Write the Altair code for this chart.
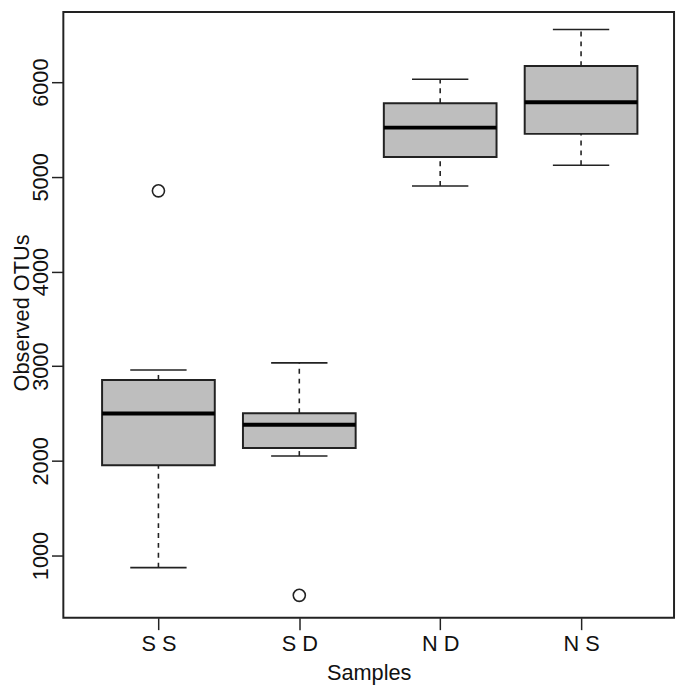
import json
import altair as alt
import pandas as pd

groups = ["S S", "S D", "N D", "N S"]
positions = [1, 2, 3, 4]
whisker_low = [872, 2051, 4904, 5123]
q1 = [1953, 2135, 5210, 5454]
median = [2500, 2381, 5520, 5788]
q3 = [2855, 2503, 5778, 6170]
whisker_high = [2959, 3035, 6031, 6556]

outlier_groups = ["S S", "S D"]
outlier_positions = [1, 2]
outlier_values = [4852, 579]

y_ticks = [1000, 2000, 3000, 4000, 5000, 6000]

df = pd.DataFrame({
    "group": groups, "pos": positions, "lo": whisker_low, "q1": q1,
    "med": median, "q3": q3, "hi": whisker_high,
})
df_out = pd.DataFrame({"group": outlier_groups, "pos": outlier_positions, "value": outlier_values})

INK = "#222222"
FONT = "Liberation Sans"

xscale = alt.Scale(domain=[0.325, 4.66], nice=False, zero=False)
yscale = alt.Scale(domain=[342, 6741], nice=False, zero=False)

label_expr = json.dumps(groups) + "[datum.value - 1]"

x_axis = alt.Axis(
    values=positions, labelExpr=label_expr, title="Samples", grid=False, domain=False,
    tickSize=12, tickWidth=1.5, tickColor=INK, labelFont=FONT, labelFontSize=22,
    labelColor="#111111", labelBaseline="alphabetic", labelPadding=21, labelAngle=0,
    titleFont=FONT, titleFontSize=22, titleFontWeight="normal", titleColor="#111111",
    titleX=309, titleY=62, titleBaseline="alphabetic", titleAlign="center",
)
y_axis = alt.Axis(
    values=y_ticks, format="d", title="Observed OTUs", grid=False, domain=False,
    tickSize=12, tickWidth=1.5, tickColor=INK, labelFont=FONT, labelFontSize=22,
    labelColor="#111111", labelAngle=270, labelAlign="center", labelBaseline="alphabetic",
    labelPadding=4.5,
    titleFont=FONT, titleFontSize=22, titleFontWeight="normal", titleColor="#111111",
    titleAngle=270, titleX=-35, titleY=304, titleBaseline="alphabetic", titleAlign="center",
)

base = alt.Chart(df).transform_calculate(
    bx0="datum.pos - 0.4", bx1="datum.pos + 0.4",
    sx0="datum.pos - 0.2", sx1="datum.pos + 0.2",
)

lower_whisker = base.mark_rule(color=INK, strokeWidth=1.6, strokeDash=[5, 5]).encode(
    x=alt.X("pos:Q", scale=xscale, axis=x_axis),
    y=alt.Y("lo:Q", scale=yscale, axis=y_axis),
    y2="q1:Q",
)
upper_whisker = base.mark_rule(color=INK, strokeWidth=1.6, strokeDash=[5, 5]).encode(
    x=alt.X("pos:Q", scale=xscale),
    y=alt.Y("q3:Q", scale=yscale),
    y2="hi:Q",
)
staple_lo = base.mark_rule(color=INK, strokeWidth=1.6).encode(
    x=alt.X("sx0:Q", scale=xscale), x2="sx1:Q",
    y=alt.Y("lo:Q", scale=yscale),
)
staple_hi = base.mark_rule(color=INK, strokeWidth=1.6).encode(
    x=alt.X("sx0:Q", scale=xscale), x2="sx1:Q",
    y=alt.Y("hi:Q", scale=yscale),
)
box = base.mark_rect(fill="#bebebe", stroke=INK, strokeWidth=2).encode(
    x=alt.X("bx0:Q", scale=xscale), x2="bx1:Q",
    y=alt.Y("q1:Q", scale=yscale), y2="q3:Q",
)
med_line = base.mark_rule(color="#000000", strokeWidth=4).encode(
    x=alt.X("bx0:Q", scale=xscale), x2="bx1:Q",
    y=alt.Y("med:Q", scale=yscale),
)
outliers = alt.Chart(df_out).mark_point(
    shape="circle", filled=False, size=150, stroke=INK, strokeWidth=1.6, opacity=1
).encode(
    x=alt.X("pos:Q", scale=xscale),
    y=alt.Y("value:Q", scale=yscale),
)

chart = alt.layer(
    lower_whisker, upper_whisker, box, med_line, staple_lo, staple_hi, outliers
).properties(
    width=618, height=613,
    background="white",
    autosize=alt.AutoSizeParams(type="none"),
    padding={"left": 56, "top": 0, "right": 3, "bottom": 70},
).configure_view(
    stroke=INK, strokeWidth=2, fill="white"
)

chart.save("out.html", embed_options={"renderer": "svg", "actions": False})
